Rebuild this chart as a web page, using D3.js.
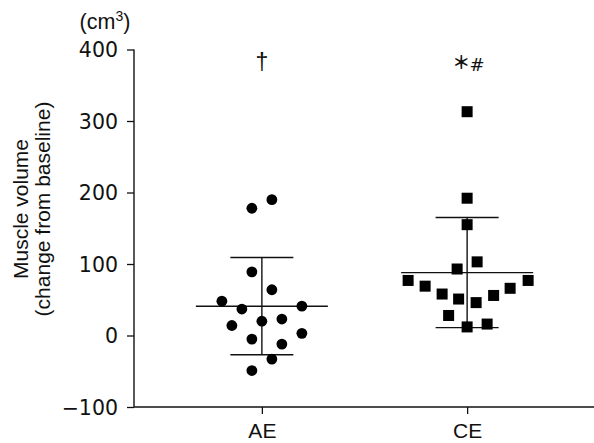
<!DOCTYPE html>
<html><head><meta charset="utf-8">
<script src="https://cdn.jsdelivr.net/npm/d3@7"></script>
<style>body{margin:0;background:#fff}svg{display:block}</style>
</head><body>
<script>
const categories = ["AE","CE"];
const aeValues = [190,178,89,64,48,37,41,23,20,14,3,-5,-12,-33,-49];
const aeJitter = [1,-1,-1,1,-4,-2,4,2,0,-3,4,-1,2,1,-1];
const ceValues = [313,192,155,103,93,77,77,69,66,58,56,51,46,28,16,12];
const ceJitter = [0,0,0,1,-1,-5.9,6.1,-4.2,4.3,-2.5,2.65,-0.85,0.9,-1.85,2,0];
const means = [41,88];
const sds = [68,77];
const annotations = ["†","＊","#"];
const yTicks = [-100,0,100,200,300,400];

const W=594,H=443;
const ink="#111";
const svg=d3.select("body").append("svg").attr("width",W).attr("height",H)
  .attr("font-family","Liberation Sans, Arial, sans-serif").attr("fill",ink);
const y=d3.scaleLinear().domain([-100,400]).range([407,49.5]);
const x=d3.scalePoint().domain(categories).range([134,595]).padding(0.623);
const j=d3.scaleLinear().domain([0,1]).range([0,10]);

// axes
const ya=svg.append("g").attr("transform","translate(134,0)")
  .call(d3.axisLeft(y).tickValues(yTicks).tickSize(7).tickPadding(9).tickFormat(d3.format("d")));
ya.attr("font-family","DejaVu Sans, sans-serif").attr("font-size",20.5);
ya.select(".domain").attr("stroke",ink).attr("stroke-width",1.4).attr("d","M0,"+y(400)+"V"+y(-100));
ya.selectAll(".tick line").attr("stroke",ink).attr("stroke-width",1.3);
ya.selectAll(".tick text").attr("fill",ink).attr("dy","0.36em");

const xa=svg.append("g").attr("transform","translate(0,407)")
  .call(d3.axisBottom(x).tickSize(7).tickPadding(9));
xa.attr("font-family","Liberation Sans, Arial, sans-serif").attr("font-size",21);
xa.select(".domain").attr("stroke",ink).attr("stroke-width",1.4).attr("d","M134,0H594");
xa.selectAll(".tick line").attr("stroke",ink).attr("stroke-width",1.3);
xa.selectAll(".tick text").attr("fill",ink);

// units
const u=svg.append("text").attr("x",105).attr("y",29).attr("text-anchor","middle").attr("font-size",21.5);
u.append("tspan").text("(cm");
u.append("tspan").text("3").attr("font-size",14).attr("dy",-8);
u.append("tspan").text(")").attr("dy",8);

// y label
const yl=svg.append("text").attr("transform","translate(0,209) rotate(-90)").attr("text-anchor","middle").attr("font-size",21);
yl.append("tspan").attr("x",0).attr("y",28).text("Muscle volume");
yl.append("tspan").attr("x",0).attr("y",50).text("(change from baseline)");

// mean and SD lines
const stats=categories.map((c,i)=>({c,m:means[i],s:sds[i]}));
const g=svg.append("g").attr("stroke",ink).attr("stroke-width",1.4);
stats.forEach(d=>{
  const cx=x(d.c);
  g.append("line").attr("x1",cx-66).attr("x2",cx+66).attr("y1",y(d.m)).attr("y2",y(d.m));
  g.append("line").attr("x1",cx).attr("x2",cx).attr("y1",y(d.m+d.s)).attr("y2",y(d.m-d.s));
  g.append("line").attr("x1",cx-31.5).attr("x2",cx+31.5).attr("y1",y(d.m+d.s)).attr("y2",y(d.m+d.s));
  g.append("line").attr("x1",cx-31.5).attr("x2",cx+31.5).attr("y1",y(d.m-d.s)).attr("y2",y(d.m-d.s));
});

// points
const ae=aeValues.map((v,i)=>({v,o:aeJitter[i]}));
const ce=ceValues.map((v,i)=>({v,o:ceJitter[i]}));
svg.append("g").selectAll("circle").data(ae).join("circle")
  .attr("cx",d=>x("AE")+j(d.o)).attr("cy",d=>y(d.v)).attr("r",5.4).attr("fill","#000");
const sq=11;
svg.append("g").selectAll("rect").data(ce).join("rect")
  .attr("x",d=>x("CE")+j(d.o)-sq/2).attr("y",d=>y(d.v)-sq/2).attr("width",sq).attr("height",sq).attr("fill","#000");

// annotations
svg.append("text").attr("x",x("AE")).attr("y",70).attr("text-anchor","middle").attr("font-size",23).text(annotations[0]);
svg.append("text").attr("x",x("CE")-6).attr("y",69).attr("text-anchor","middle")
  .attr("font-family","Noto Sans CJK JP").attr("font-size",18).attr("font-weight","bold").text(annotations[1]);
svg.append("text").attr("x",x("CE")+10).attr("y",70.5).attr("text-anchor","middle")
  .attr("font-family","DejaVu Sans, sans-serif").attr("font-size",18).text(annotations[2]);
</script>
</body></html>
